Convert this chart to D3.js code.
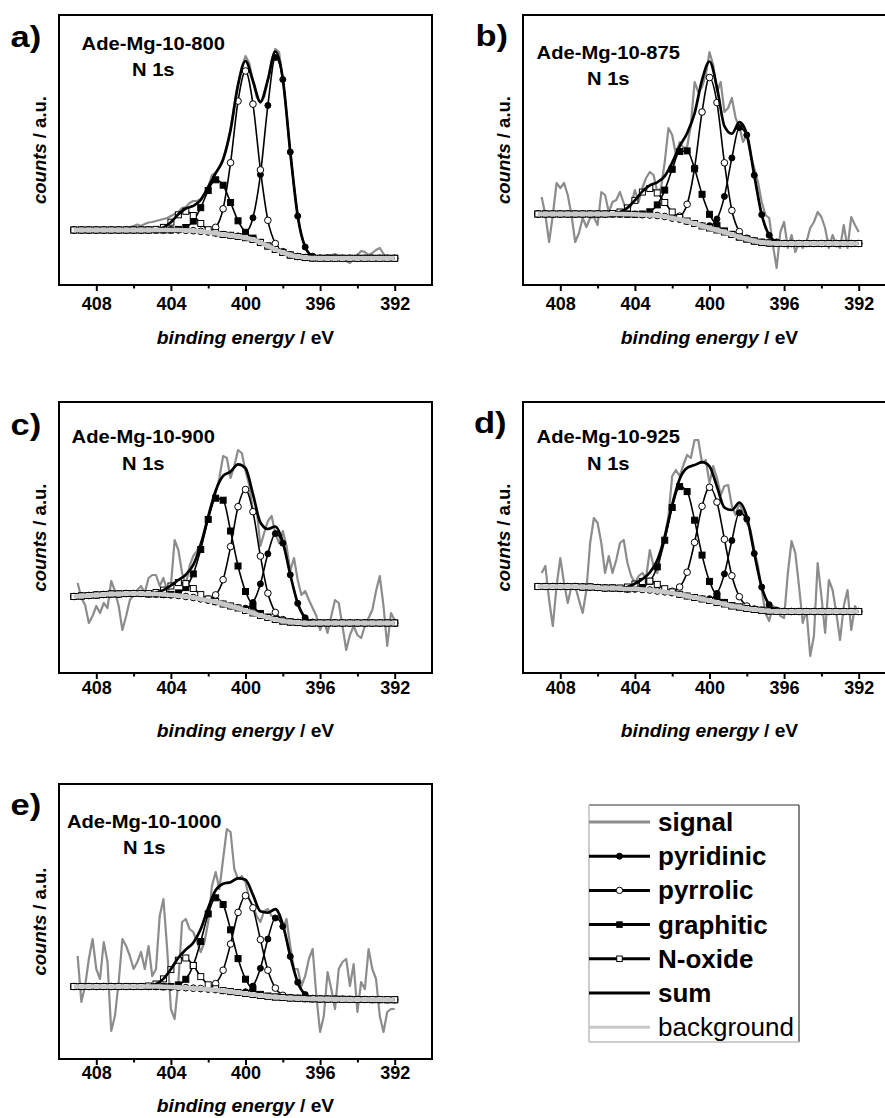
<!DOCTYPE html>
<html><head><meta charset="utf-8">
<script src="https://cdn.jsdelivr.net/npm/d3@7"></script>
<style>
html,body{margin:0;padding:0;background:#fff;}
svg{display:block;}
</style></head><body>
<svg id="chart" width="885" height="1118"></svg>
<script>
// ---------------- DATA ----------------
const sampleNames = ["Ade-Mg-10-800", "Ade-Mg-10-875", "Ade-Mg-10-900", "Ade-Mg-10-925", "Ade-Mg-10-1000"];
const panelLetters = ["a)", "b)", "c)", "d)", "e)"];
const seriesNames = ["signal", "pyridinic", "pyrrolic", "graphitic", "N-oxide", "sum", "background"];
const tickMajor = [408, 404, 400, 396, 392];
const tickMinor = [406, 402, 398, 394];
const energyDomain = [410, 390];

// binding energy (eV) of the fitted curves
const componentEnergy = [409.2,408.8,408.4,408.0,407.6,407.2,406.8,406.4,406.0,405.6,
  405.2,404.8,404.4,404.0,403.6,403.2,402.8,402.4,402.0,401.6,
  401.2,400.8,400.4,400.0,399.6,399.2,398.8,398.4,398.0,397.6,
  397.2,396.8,396.4,396.0,395.6,395.2,394.8,394.4,394.0,393.6,
  393.2,392.8,392.4,392.0];
// binding energy (eV) of the measured signal
const signalEnergy = [409.0,408.8,408.6,408.4,408.2,408.0,407.8,407.6,407.4,407.2,
  407.0,406.8,406.6,406.4,406.2,406.0,405.8,405.6,405.4,405.2,
  405.0,404.8,404.6,404.4,404.2,404.0,403.8,403.6,403.4,403.2,
  403.0,402.8,402.6,402.4,402.2,402.0,401.8,401.6,401.4,401.2,
  401.0,400.8,400.6,400.4,400.2,400.0,399.8,399.6,399.4,399.2,
  399.0,398.8,398.6,398.4,398.2,398.0,397.8,397.6,397.4,397.2,
  397.0,396.8,396.6,396.4,396.2,396.0,395.8,395.6,395.4,395.2,
  395.0,394.8,394.6,394.4,394.2,394.0,393.8,393.6,393.4,393.2,
  393.0,392.8,392.6,392.4,392.2,392.0];

// ---- Ade-Mg-10-800 (counts, a.u.; components = intensity above background)
const signal800 = [55,54,53,52,53.5,55,56,55.5,56.5,56,
  55,55.5,56,57,58,59,60.5,59,61,62.5,
  63,64,65,66,67,69,71,73,77,78,
  82,84,84,86,91,98,110,112,118,126,
  140,156,180,200,218,229,222,204,188,182,
  188,205,225,236,233,205,172,133,100,70,
  49,38,31,28,27,27,29,30,30,31,
  29,27,24,22,26,30,34,33,30,32,
  35,37,31,27,25,24];
const background800 = [55,55,55,55,55,55,55,55,55,55, 55,55,55,55,55,54.7,54.3,53.7,52.7,51.7,
  50.5,49.7,48.5,47.3,45.5,42.5,39,35.5,32.5,30, 28.5,27.5,27,26.7,26.7,26.7,26.7,26.7,26.7,26.7, 26.7,26.7,26.7,26.7];
const pyridinic800 = [0,0,0,0,0,0,0,0,0,0, 0,0,0,0,0,0,0,0,0,0,
  0,0,0.6,4.6,21.7,67.9,140.6,192,173,103, 40.4,10.5,1.8,0.3,0,0,0,0,0,0, 0,0,0,0];
const pyrrolic800 = [0,0,0,0,0,0,0,0,0,0, 0,0,0,0,0,0,0,0,0.9,6.0,
  25.7,72.6,135.4,166.7,135.4,72.6,25.7,6.0,0.9,0, 0,0,0,0,0,0,0,0,0,0, 0,0,0,0];
const graphitic800 = [0,0,0,0,0,0,0,0,0,0, 0,0,0,0,0.6,2.8,9.6,23.6,41.8,53.5,
  49.3,32.8,15.7,5.4,1.4,0.2,0,0,0,0, 0,0,0,0,0,0,0,0,0,0, 0,0,0,0];
const noxide800 = [0,0,0,0,0,0,0,0,0,0, 0,0.6,2.6,7.8,15.2,19,15.2,7.8,2.6,0.6,
  0,0,0,0,0,0,0,0,0,0, 0,0,0,0,0,0,0,0,0,0, 0,0,0,0];
const sum800 = [0,0,0,0,0,0,0,0,0,0, 0,0.6,2.6,7.8,15.8,21.8,24.8,31.4,45.3,60.1,
  75,105.4,151.7,176.7,158.5,140.7,166.3,198,173.9,103, 40.4,10.5,1.8,0.3,0,0,0,0,0,0, 0,0,0,0];

// ---- Ade-Mg-10-875
const signal875 = [88,70,43,70,102,97,102,90,70,43,
  52,67,58,67,68,60,93,90,73,83,
  85,93,82,70,80,95,83,97,107,113,
  110,93,97,123,157,150,130,143,137,138,
  160,203,193,198,210,233,220,193,203,173,
  177,187,167,158,143,150,130,117,103,83,
  70,67,40,17,53,63,37,50,33,43,
  37,43,57,63,73,68,57,37,50,40,
  37,60,37,68,60,53];
const background875 = [71,71,71,71,71,71,71,71,71,71, 71,71,70.8,70.6,70.3,70,69.5,68.5,66.7,65.5,
  63.5,61.5,59,57,55,53,50.5,48,46,44, 42.7,42,41.7,41.5,41.5,41.5,41.5,41.5,41.5,41.5, 41.5,41.5,41.5,41.5];
const pyridinic875 = [0,0,0,0,0,0,0,0,0,0, 0,0,0,0,0,0,0,0,0,0,
  0,0,0.3,2.3,11,35.6,76.6,109.4,104,65.8, 27.6,7.7,1.4,0.1,0,0,0,0,0,0, 0,0,0,0];
const pyrrolic875 = [0,0,0,0,0,0,0,0,0,0, 0,0,0,0,0,0,0,0,0.4,3.4,
  17.2,55.5,114,150.5,127.4,69.2,24,5.4,0.8,0, 0,0,0,0,0,0,0,0,0,0, 0,0,0,0];
const graphitic875 = [0,0,0,0,0,0,0,0,0,0, 0,0,0,0.1,0.7,3.2,10.6,26.4,49,68,
  70.6,54.7,31.7,13.7,4.4,1.1,0.2,0,0,0, 0,0,0,0,0,0,0,0,0,0, 0,0,0,0];
const noxide875 = [0,0,0,0,0,0,0,0,0,0, 0.5,2.0,6.3,14,22.6,26.5,22.6,14,6.3,2.0,
  0.5,0,0,0,0,0,0,0,0,0, 0,0,0,0,0,0,0,0,0,0, 0,0,0,0];
const sum875 = [0,0,0,0,0,0,0,0,0,0, 0.5,2.0,6.3,14.1,23.3,29.7,33.2,40.4,55.7,73.4,
  88.3,110.2,146,166.5,142.8,105.9,100.8,114.8,104.8,65.8, 27.6,7.7,1.4,0.1,0,0,0,0,0,0, 0,0,0,0];

// ---- Ade-Mg-10-900
const signal900 = [90,75,68,50,57,67,60,70,65,92,
  82,67,43,57,73,78,83,87,80,95,
  98,98,87,95,82,87,133,123,100,88,
  107,117,122,130,140,155,167,180,195,217,
  215,195,207,223,220,202,188,162,163,127,
  140,152,157,140,130,142,127,102,115,93,
  78,82,73,65,57,43,53,40,57,73,
  70,47,23,38,47,38,35,47,55,63,
  82,97,67,27,60,53];
const background900 = [76.5,77,77.5,78,78.5,79,79,79.5,79.5,79.5, 79,79,78.5,78,77.5,76.5,75.5,74,72.5,71,
  69,67,65,62.5,60,57.5,55.5,53.5,52,51, 50.5,50,50,50,50,50,50,50,50,50, 50,50,50,50];
const pyridinic900 = [0,0,0,0,0,0,0,0,0,0, 0,0,0,0,0,0,0,0,0,0,
  0,0,0.4,2.3,10.5,31.6,63.7,85.9,77.8,47.2, 19.2,5.2,1.0,0,0,0,0,0,0,0, 0,0,0,0];
const pyrrolic900 = [0,0,0,0,0,0,0,0,0,0, 0,0,0,0,0,0,0,0.2,1.4,7.1,
  24.3,59.4,101.3,121,101.3,59.4,24.3,7.1,1.4,0.2, 0,0,0,0,0,0,0,0,0,0, 0,0,0,0];
const graphitic900 = [0,0,0,0,0,0,0,0,0,0, 0,0,0,0.6,2.6,8.9,23.6,49.5,81.1,103.8,
  103.8,75,42,19,7,2,0.5,0,0,0, 0,0,0,0,0,0,0,0,0,0, 0,0,0,0];
const noxide900 = [0,0,0,0,0,0,0,0,0,0, 0.4,1.5,4.4,9.0,12.9,12.9,9.0,4.4,1.5,0.4,
  0,0,0,0,0,0,0,0,0,0, 0,0,0,0,0,0,0,0,0,0, 0,0,0,0];
const sum900 = [0,0,0,0,0,0,0,0,0,0, 0.4,1.5,4.4,9.6,15.5,21.8,32.6,54.1,84,111.3,
  128.1,134.4,143.7,142.3,118.8,93,88.5,93,79.2,47.4, 19.2,5.2,1.0,0,0,0,0,0,0,0, 0,0,0,0];

// ---- Ade-Mg-10-925
const signal925 = [100,107,73,47,87,115,90,70,87,87,
  73,60,83,130,155,150,130,100,117,100,
  113,130,133,110,97,90,97,100,95,123,
  107,100,123,137,157,197,203,197,208,218,
  215,233,233,210,213,190,207,195,178,187,
  188,167,158,170,160,150,143,123,107,83,
  60,52,67,65,57,55,100,132,120,87,
  50,63,17,37,110,77,40,93,83,60,
  33,67,83,43,67,60];
const background925 = [86.5,86.5,86.5,86.5,86.5,86.5,86,86,85.5,85, 85,84.5,84,84,83.5,83,82,81,80,78.5,
  77,75.5,74,72.5,70.5,69,67,66,64.5,63.5, 62.7,62,61.7,61.5,61.5,61.5,61.5,61.5,61.5,61.5, 61.5,61.5,61.5,61.5];
const pyridinic925 = [0,0,0,0,0,0,0,0,0,0, 0,0,0,0,0,0,0,0,0,0,
  0,0,0.2,1.8,9.1,30.1,65.5,94.2,89.4,56, 23.2,6.3,1.1,0.1,0,0,0,0,0,0, 0,0,0,0];
const pyrrolic925 = [0,0,0,0,0,0,0,0,0,0, 0,0,0,0,0,0,0,0.3,1.7,7.5,
  23.8,55.1,92.7,113.2,100.4,64.7,30.2,10.3,2.5,0.5, 0,0,0,0,0,0,0,0,0,0, 0,0,0,0];
const graphitic925 = [0,0,0,0,0,0,0,0,0,0, 0,0,0,0.5,2.3,8.6,24.1,51.8,85.5,107.9,
  104.4,77.3,43.9,19.1,6.4,1.6,0.3,0,0,0, 0,0,0,0,0,0,0,0,0,0, 0,0,0,0];
const noxide925 = [0,0,0,0,0,0,0,0,0,0, 0,0.5,2.0,4.9,8.0,8.9,6.6,3.3,1.1,0.2,
  0,0,0,0,0,0,0,0,0,0, 0,0,0,0,0,0,0,0,0,0, 0,0,0,0];
const sum925 = [0,0,0,0,0,0,0,0,0,0, 0,0.5,2.0,5.4,10.3,17.5,30.7,55.4,88.3,115.6,
  128.2,132.4,136.8,134.1,115.9,96.4,96,104.5,91.9,56.5, 23.2,6.3,1.1,0.1,0,0,0,0,0,0, 0,0,0,0];

// ---- Ade-Mg-10-1000
const signal1000 = [103,57,73,100,120,90,80,117,97,28,
  43,77,120,113,103,90,97,107,90,113,
  83,90,143,160,110,50,40,77,137,140,
  130,127,117,107,117,137,173,187,170,200,
  230,227,190,180,183,177,160,153,143,137,
  148,150,143,142,143,130,140,113,90,90,
  73,83,100,110,63,27,43,87,70,50,
  90,97,100,73,95,47,77,70,110,90,
  80,43,27,47,50,50];
const background1000 = [72.5,72.5,72.5,72.5,72.5,72.5,72.5,72.5,72.5,72.5, 72.5,72.5,72.3,72,71.7,71.3,70.8,70.2,69.6,69,
  68.2,67.4,66.5,65.5,64.5,63.5,62.7,62,61.5,61, 60.7,60.4,60.2,60,59.9,59.8,59.7,59.6,59.5,59.5, 59.4,59.4,59.3,59.3];
const pyridinic1000 = [0,0,0,0,0,0,0,0,0,0, 0,0,0,0,0,0,0,0,0,0,
  0,0,0.2,1.7,8.4,27.2,57.3,79,71,41.6, 16,4,0.6,0,0,0,0,0,0,0, 0,0,0,0];
const pyrrolic1000 = [0,0,0,0,0,0,0,0,0,0, 0,0,0,0,0,0,0,0.3,1.5,6.4,
  20.6,47.6,80.1,97.8,86.7,55.9,26.1,8.9,2.2,0.4, 0,0,0,0,0,0,0,0,0,0, 0,0,0,0];
const graphitic1000 = [0,0,0,0,0,0,0,0,0,0, 0,0,0,0.5,2.4,8.4,22.8,47.3,75.5,92.2,
  86.3,61.8,33.9,14.3,4.6,1.1,0.2,0,0,0, 0,0,0,0,0,0,0,0,0,0, 0,0,0,0];
const noxide1000 = [0,0,0,0,0,0,0,0,0,0, 0.5,2.5,7.8,17.4,27.1,29.7,22.7,12.2,4.6,1.2,
  0.2,0,0,0,0,0,0,0,0,0, 0,0,0,0,0,0,0,0,0,0, 0,0,0,0];
const sum1000 = [0,0,0,0,0,0,0,0,0,0, 0.5,2.5,7.8,17.9,29.5,38.1,45.5,59.8,81.6,99.8,
  107.1,109.4,114.2,113.8,99.7,84.2,83.6,87.9,73.2,42, 16,4,0.6,0,0,0,0,0,0,0, 0,0,0,0];

// ---------------- BUILD ----------------
const samples = [
  {signal: signal800, background: background800, pyridinic: pyridinic800, pyrrolic: pyrrolic800, graphitic: graphitic800, noxide: noxide800, sum: sum800},
  {signal: signal875, background: background875, pyridinic: pyridinic875, pyrrolic: pyrrolic875, graphitic: graphitic875, noxide: noxide875, sum: sum875},
  {signal: signal900, background: background900, pyridinic: pyridinic900, pyrrolic: pyrrolic900, graphitic: graphitic900, noxide: noxide900, sum: sum900},
  {signal: signal925, background: background925, pyridinic: pyridinic925, pyrrolic: pyrrolic925, graphitic: graphitic925, noxide: noxide925, sum: sum925},
  {signal: signal1000, background: background1000, pyridinic: pyridinic1000, pyrrolic: pyrrolic1000, graphitic: graphitic1000, noxide: noxide1000, sum: sum1000}
];

// layout (pixels)
const layout = [
  {left: 59,  top: 15,  height: 270, letterX: 10.5, letterY: 47,  titleX: 153.3, titleY: 49.5, subY: 75.5, tickPad: 6.6, axisTitleY: 343.5},
  {left: 523, top: 15,  height: 270, letterX: 475.5, letterY: 46, titleX: 608.3, titleY: 58.5, subY: 85,   tickPad: 6.0, axisTitleY: 343.5},
  {left: 59,  top: 402, height: 271, letterX: 10.5, letterY: 435, titleX: 143.3, titleY: 443,  subY: 470,  tickPad: 2.4, axisTitleY: 736.5},
  {left: 523, top: 402, height: 271, letterX: 474,  letterY: 433, titleX: 608.3, titleY: 443,  subY: 470,  tickPad: 2.4, axisTitleY: 736.5},
  {left: 59,  top: 784, height: 275, letterX: 10.5, letterY: 815, titleX: 144.2, titleY: 828,  subY: 853.7, tickPad: 1.4, axisTitleY: 1112}
];
const PLOT_W = 373;
const FONT = '"Liberation Sans", Arial, Helvetica, sans-serif';
const SIGNAL_COLOR = '#8c8c8c';
const BG_COLOR = '#c8c8c8';

const components = [
  {key: 'pyridinic', shape: 'circle', fill: '#000', r: 3.0},
  {key: 'pyrrolic',  shape: 'circle', fill: '#fff', r: 3.3},
  {key: 'graphitic', shape: 'square', fill: '#000', s: 6},
  {key: 'noxide',    shape: 'square', fill: '#fff', s: 6}
];

const svg = d3.select('#chart');
const defs = svg.append('defs');

function drawMarkers(sel, pts, comp, x, y) {
  if (comp.shape === 'circle') {
    sel.selectAll('circle').data(pts).join('circle')
      .attr('cx', d => x(d[0])).attr('cy', d => y(d[1])).attr('r', comp.r)
      .attr('fill', comp.fill).attr('stroke', '#000').attr('stroke-width', 1);
  } else {
    sel.selectAll('rect').data(pts).join('rect')
      .attr('x', d => x(d[0]) - comp.s / 2).attr('y', d => y(d[1]) - comp.s / 2)
      .attr('width', comp.s).attr('height', comp.s)
      .attr('fill', comp.fill).attr('stroke', '#000').attr('stroke-width', 1);
  }
}

layout.forEach((L, k) => {
  const D = samples[k];
  const x = d3.scaleLinear().domain(energyDomain).range([L.left, L.left + PLOT_W]);
  const y = d3.scaleLinear().domain([0, L.height]).range([L.top + L.height, L.top]);
  const clipId = 'clip' + k;
  defs.append('clipPath').attr('id', clipId).append('rect')
    .attr('x', L.left).attr('y', L.top).attr('width', PLOT_W).attr('height', L.height);

  const g = svg.append('g');
  const plot = g.append('g').attr('clip-path', `url(#${clipId})`);

  const lineLin = d3.line().x(d => x(d[0])).y(d => y(d[1]));
  const lineSmooth = d3.line().x(d => x(d[0])).y(d => y(d[1])).curve(d3.curveMonotoneX);

  // measured signal
  plot.append('path').attr('d', lineLin(d3.zip(signalEnergy, D.signal)))
    .attr('fill', 'none').attr('stroke', SIGNAL_COLOR).attr('stroke-width', 2.2)
    .attr('stroke-linejoin', 'round');

  // fitted components (sit on the background)
  components.forEach(c => {
    const pts = componentEnergy.map((e, i) => [e, D.background[i] + D[c.key][i]]);
    plot.append('path').attr('d', lineSmooth(pts))
      .attr('fill', 'none').attr('stroke', '#000').attr('stroke-width', 1.6);
    drawMarkers(plot.append('g'), pts, c, x, y);
  });

  // sum
  const sumPts = componentEnergy.map((e, i) => [e, D.background[i] + D.sum[i]]);
  plot.append('path').attr('d', lineSmooth(sumPts))
    .attr('fill', 'none').attr('stroke', '#000').attr('stroke-width', 2.7);

  // background
  const bgPts = componentEnergy.map((e, i) => [e, D.background[i]]);
  plot.append('path').attr('d', lineSmooth(bgPts))
    .attr('fill', 'none').attr('stroke', BG_COLOR).attr('stroke-width', 4.6);

  // frame
  g.append('rect').attr('x', L.left).attr('y', L.top).attr('width', PLOT_W).attr('height', L.height)
    .attr('fill', 'none').attr('stroke', '#000').attr('stroke-width', 2);

  // x axis
  const ax = g.append('g').attr('transform', `translate(0,${L.top + L.height})`);
  ax.call(d3.axisBottom(x).tickValues(tickMajor).tickSize(6).tickPadding(L.tickPad).tickFormat(d3.format('d')));
  ax.select('.domain').remove();
  ax.attr('font-family', FONT).attr('font-size', 18).attr('font-weight', 'bold');
  ax.selectAll('line').attr('stroke', '#000').attr('stroke-width', 2);
  ax.selectAll('text').attr('fill', '#000');
  const axm = g.append('g').attr('transform', `translate(0,${L.top + L.height})`);
  axm.call(d3.axisBottom(x).tickValues(tickMinor).tickSize(3.5).tickFormat(''));
  axm.select('.domain').remove();
  axm.selectAll('line').attr('stroke', '#000').attr('stroke-width', 2);

  // axis title
  const xt = g.append('text')
    .attr('transform', `translate(${L.left + PLOT_W / 2},${L.axisTitleY}) scale(1.1,1)`)
    .attr('text-anchor', 'middle').attr('font-family', FONT).attr('font-size', 17.5)
    .attr('font-weight', 'bold').attr('fill', '#000');
  xt.append('tspan').attr('font-style', 'italic').text('binding energy');
  xt.append('tspan').text(' / eV');

  // y title
  const yt = g.append('text')
    .attr('transform', `translate(${L.left - 13},${L.top + L.height / 2}) rotate(-90)`)
    .attr('text-anchor', 'middle').attr('font-family', FONT).attr('font-size', 18.5)
    .attr('font-weight', 'bold').attr('fill', '#000');
  yt.append('tspan').attr('font-style', 'italic').text('counts');
  yt.append('tspan').text(' / a.u.');

  // panel letter
  g.append('text').attr('transform', `translate(${L.letterX},${L.letterY}) scale(1.15,1)`)
    .attr('font-family', FONT).attr('font-size', 30).attr('font-weight', 'bold').attr('fill', '#000')
    .text(panelLetters[k]);

  // sample name
  g.append('text').attr('transform', `translate(${L.titleX},${L.titleY}) scale(1.12,1)`)
    .attr('text-anchor', 'middle').attr('font-family', FONT).attr('font-size', 18)
    .attr('font-weight', 'bold').attr('fill', '#000').text(sampleNames[k]);
  g.append('text').attr('transform', `translate(${L.titleX},${L.subY}) scale(1.12,1)`)
    .attr('text-anchor', 'middle').attr('font-family', FONT).attr('font-size', 18)
    .attr('font-weight', 'bold').attr('fill', '#000').text('N 1s');
});

// ---------------- LEGEND ----------------
const LG = {x: 589, y: 805, w: 210, h: 237, lineX0: 589, lineX1: 650, markX: 619.5, textX: 658, row0: 822, step: 34.2};
const lg = svg.append('g');
lg.append('rect').attr('x', LG.x).attr('y', LG.y).attr('width', LG.w).attr('height', LG.h).attr('fill', '#fff');
lg.append('line').attr('x1', LG.x).attr('y1', LG.y).attr('x2', LG.x + LG.w).attr('y2', LG.y).attr('stroke', '#333').attr('stroke-width', 1.2);
lg.append('line').attr('x1', LG.x + LG.w).attr('y1', LG.y).attr('x2', LG.x + LG.w).attr('y2', LG.y + LG.h).attr('stroke', '#333').attr('stroke-width', 1.2);
lg.append('line').attr('x1', LG.x).attr('y1', LG.y).attr('x2', LG.x).attr('y2', LG.y + LG.h).attr('stroke', '#bdbdbd').attr('stroke-width', 1.5);
lg.append('line').attr('x1', LG.x).attr('y1', LG.y + LG.h).attr('x2', LG.x + LG.w).attr('y2', LG.y + LG.h).attr('stroke', '#bdbdbd').attr('stroke-width', 1.5);

const legendStyle = [
  {stroke: SIGNAL_COLOR, marker: null, weight: 'bold'},
  {stroke: '#000', marker: {shape: 'circle', fill: '#000', r: 3.0}, weight: 'bold'},
  {stroke: '#000', marker: {shape: 'circle', fill: '#fff', r: 3.2}, weight: 'bold'},
  {stroke: '#000', marker: {shape: 'square', fill: '#000', s: 5.5}, weight: 'bold'},
  {stroke: '#000', marker: {shape: 'square', fill: '#fff', s: 5.5}, weight: 'bold'},
  {stroke: '#000', marker: null, weight: 'bold'},
  {stroke: BG_COLOR, marker: null, weight: 'normal'}
];
const ly = d3.scaleLinear().domain([0, 1]).range([LG.row0, LG.row0 + LG.step]);
seriesNames.forEach((name, i) => {
  const st = legendStyle[i];
  const yy = ly(i);
  lg.append('line').attr('x1', LG.lineX0).attr('x2', LG.lineX1).attr('y1', yy).attr('y2', yy)
    .attr('stroke', st.stroke).attr('stroke-width', 3);
  if (st.marker) {
    const m = st.marker;
    if (m.shape === 'circle') {
      lg.append('circle').attr('cx', LG.markX).attr('cy', yy).attr('r', m.r)
        .attr('fill', m.fill).attr('stroke', '#000').attr('stroke-width', 1);
    } else {
      lg.append('rect').attr('x', LG.markX - m.s / 2).attr('y', yy - m.s / 2).attr('width', m.s).attr('height', m.s)
        .attr('fill', m.fill).attr('stroke', '#000').attr('stroke-width', 1);
    }
  }
  lg.append('text').attr('x', LG.textX).attr('y', yy + 9).attr('font-family', FONT)
    .attr('font-size', 26).attr('font-weight', st.weight).attr('fill', '#000').text(name);
});
</script>
</body></html>
